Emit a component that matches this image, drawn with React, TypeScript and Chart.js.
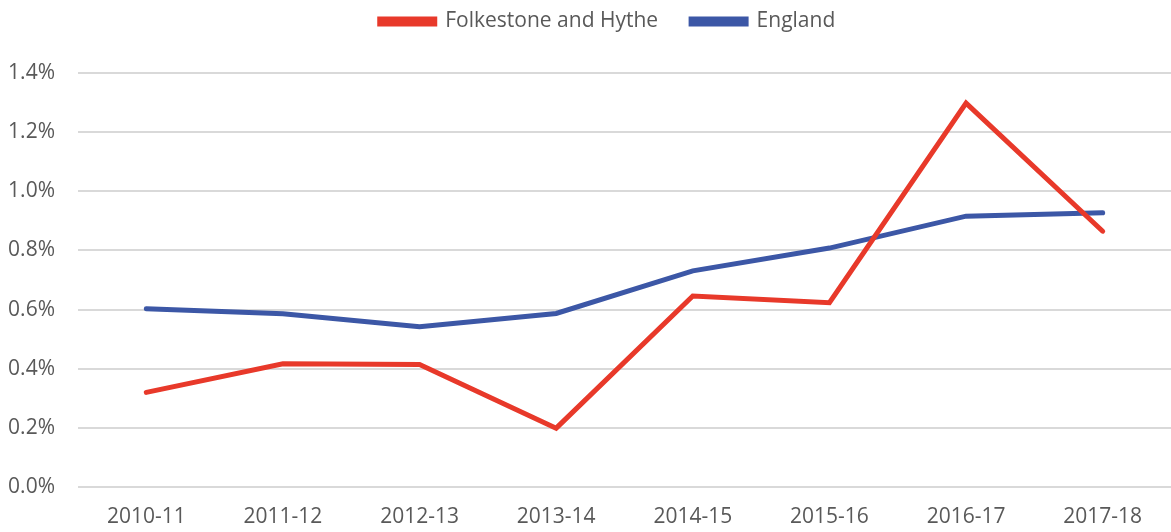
import React, { useEffect, useRef } from "react";
import { Chart, registerables } from "chart.js";

Chart.register(...registerables);

const categories = ["2010-11", "2011-12", "2012-13", "2013-14", "2014-15", "2015-16", "2016-17", "2017-18"];
const folkestone = [0.32, 0.417, 0.414, 0.199, 0.646, 0.623, 1.298, 0.865];
const england = [0.603, 0.586, 0.542, 0.587, 0.731, 0.808, 0.916, 0.927];
const seriesNames = ["Folkestone and Hythe", "England"];

const legendTweak = {
  id: "legendTweak",
  beforeInit(chart: any) {
    const legend = chart.legend;
    if (!legend) return;
    const origFit = legend.fit;
    legend.fit = function (...a: any[]) {
      origFit.apply(this, a);
      this.height = 73;
    };
    const origDraw = legend.draw;
    legend.draw = function (...a: any[]) {
      const t = this.top;
      const l = this.left;
      const r = this.right;
      this.top = t - 22;
      this.left = l + 22;
      this.right = r + 22;
      origDraw.apply(this, a);
      this.top = t;
      this.left = l;
      this.right = r;
    };
  },
};

export default function App() {
  const ref = useRef<HTMLCanvasElement | null>(null);
  useEffect(() => {
    document.body.style.margin = "0";
    const ctx = ref.current!;
    const font = { family: "'Open Sans', 'Liberation Sans', sans-serif", size: 21 };
    const chart = new Chart(ctx, {
      type: "line",
      data: {
        labels: categories,
        datasets: [
          {
            label: seriesNames[0],
            data: folkestone,
            borderColor: "#E8392A",
            backgroundColor: "#E8392A",
            borderWidth: 5,
            pointRadius: 0,
            tension: 0,
            borderCapStyle: "round",
            borderJoinStyle: "miter",
          },
          {
            label: seriesNames[1],
            data: england,
            borderColor: "#3C57A6",
            backgroundColor: "#3C57A6",
            borderWidth: 5,
            pointRadius: 0,
            tension: 0,
            borderCapStyle: "round",
            borderJoinStyle: "miter",
          },
        ],
      },
      plugins: [legendTweak],
      options: {
        animation: false,
        responsive: false,
        maintainAspectRatio: false,
        layout: { padding: { left: 0, right: 0, top: 0, bottom: 3 } },
        plugins: {
          tooltip: { enabled: false },
          legend: {
            position: "top",
            labels: {
              boxWidth: 55,
              boxHeight: 5,
              color: "#595959",
              font,
              padding: 33,
            },
          },
        },
        scales: {
          x: {
            offset: true,
            grid: { display: false },
            border: { display: false },
            ticks: { color: "#595959", font, maxRotation: 0, padding: 9 },
            afterFit: (s: any) => {
              s.height = 42;
            },
          },
          y: {
            min: 0,
            max: 1.4,
            grid: { color: "#D9D9D9", lineWidth: 2, drawTicks: false },
            border: { display: false },
            ticks: {
              stepSize: 0.2,
              color: "#595959",
              font,
              padding: 23,
              callback: (v: any) => Number(v).toFixed(1) + "%",
            },
            afterFit: (s: any) => {
              s.width = 78;
            },
          },
        },
      },
    });
    return () => chart.destroy();
  }, []);
  return (
    <div style={{ position: "absolute", left: 0, top: 0, width: 1171, height: 532 }}>
      <canvas ref={ref} width={1171} height={532} style={{ width: 1171, height: 532 }} />
    </div>
  );
}
